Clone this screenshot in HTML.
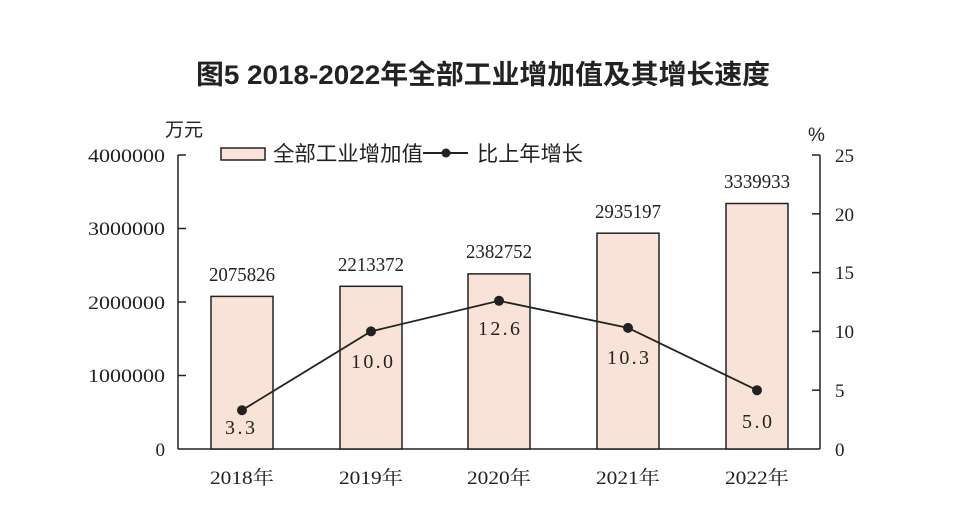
<!DOCTYPE html><html><head><meta charset="utf-8"><style>body{margin:0;background:#fff}</style></head><body>
<svg width="963" height="520" xmlns="http://www.w3.org/2000/svg" font-family="Liberation Serif, Noto Serif CJK SC, serif" fill="#222">
<text x="196" y="84" textLength="574" lengthAdjust="spacingAndGlyphs" font-family="Liberation Sans, Noto Sans CJK SC, sans-serif" font-weight="bold" font-size="27">图5 2018-2022年全部工业增加值及其增长速度</text>
<g stroke="#222" stroke-width="1.5" fill="none">
<line x1="178" y1="155" x2="178" y2="449"/><line x1="178" y1="449" x2="820" y2="449"/><line x1="820" y1="155" x2="820" y2="449"/>
<line x1="178" y1="155" x2="186" y2="155"/><line x1="178" y1="228.5" x2="186" y2="228.5"/><line x1="178" y1="302" x2="186" y2="302"/><line x1="178" y1="375.5" x2="186" y2="375.5"/>
<line x1="812" y1="155" x2="820" y2="155"/><line x1="812" y1="213.8" x2="820" y2="213.8"/><line x1="812" y1="272.6" x2="820" y2="272.6"/><line x1="812" y1="331.4" x2="820" y2="331.4"/><line x1="812" y1="390.2" x2="820" y2="390.2"/>
</g>
<g font-size="19" text-anchor="end"><text x="165" y="162" textLength="77" lengthAdjust="spacingAndGlyphs">4000000</text><text x="165" y="235" textLength="77" lengthAdjust="spacingAndGlyphs">3000000</text><text x="165" y="309" textLength="77" lengthAdjust="spacingAndGlyphs">2000000</text><text x="165" y="382" textLength="77" lengthAdjust="spacingAndGlyphs">1000000</text><text x="165" y="456">0</text></g>
<g font-size="19"><text x="835" y="162">25</text><text x="835" y="221">20</text><text x="835" y="279">15</text><text x="835" y="338">10</text><text x="835" y="397">5</text><text x="835" y="456">0</text></g>
<text x="165" y="136" font-size="19" font-family="Liberation Sans, Noto Sans CJK SC, sans-serif">万元</text>
<text x="808" y="141" font-size="19" font-family="Liberation Sans, Noto Sans CJK SC, sans-serif">%</text>
<g fill="#f9e3d9" stroke="#222" stroke-width="1.5">
<rect x="221" y="148" width="44" height="12"/>
<rect x="211" y="296.4" width="62" height="152.6"/><rect x="340" y="286.3" width="62" height="162.7"/><rect x="468" y="273.9" width="62" height="175.1"/><rect x="597" y="233.2" width="62" height="215.8"/><rect x="726" y="203.5" width="62" height="245.5"/>
</g>
<g font-size="21" font-family="Liberation Sans, Noto Sans CJK SC, sans-serif"><text x="273" y="161" textLength="150" lengthAdjust="spacingAndGlyphs">全部工业增加值</text><text x="477" y="161" textLength="106" lengthAdjust="spacingAndGlyphs">比上年增长</text></g>
<line x1="423" y1="153" x2="468" y2="153" stroke="#222" stroke-width="2"/><circle cx="446" cy="153" r="4.5"/>
<g font-size="20" text-anchor="middle"><text x="242" y="281" textLength="66" lengthAdjust="spacingAndGlyphs">2075826</text><text x="371" y="271" textLength="66" lengthAdjust="spacingAndGlyphs">2213372</text><text x="499" y="258" textLength="66" lengthAdjust="spacingAndGlyphs">2382752</text><text x="628" y="218" textLength="66" lengthAdjust="spacingAndGlyphs">2935197</text><text x="757" y="188" textLength="66" lengthAdjust="spacingAndGlyphs">3339933</text></g>
<polyline points="242,410.2 371,331.4 499,300.8 628,327.9 757,390.2" fill="none" stroke="#222" stroke-width="1.8"/>
<g><circle cx="242" cy="410.2" r="5"/><circle cx="371" cy="331.4" r="5"/><circle cx="499" cy="300.8" r="5"/><circle cx="628" cy="327.9" r="5"/><circle cx="757" cy="390.2" r="5"/></g>
<g font-size="20" text-anchor="middle"><text x="240" y="434" textLength="30" lengthAdjust="spacing">3.3</text><text x="372" y="368" textLength="42" lengthAdjust="spacing">10.0</text><text x="499" y="335" textLength="42" lengthAdjust="spacing">12.6</text><text x="628" y="364" textLength="42" lengthAdjust="spacing">10.3</text><text x="757" y="428" textLength="30" lengthAdjust="spacing">5.0</text></g>
<g font-size="19" text-anchor="middle"><text x="242" y="484" textLength="64" lengthAdjust="spacingAndGlyphs">2018年</text><text x="371" y="484" textLength="64" lengthAdjust="spacingAndGlyphs">2019年</text><text x="499" y="484" textLength="64" lengthAdjust="spacingAndGlyphs">2020年</text><text x="628" y="484" textLength="64" lengthAdjust="spacingAndGlyphs">2021年</text><text x="757" y="484" textLength="64" lengthAdjust="spacingAndGlyphs">2022年</text></g>
</svg></body></html>
